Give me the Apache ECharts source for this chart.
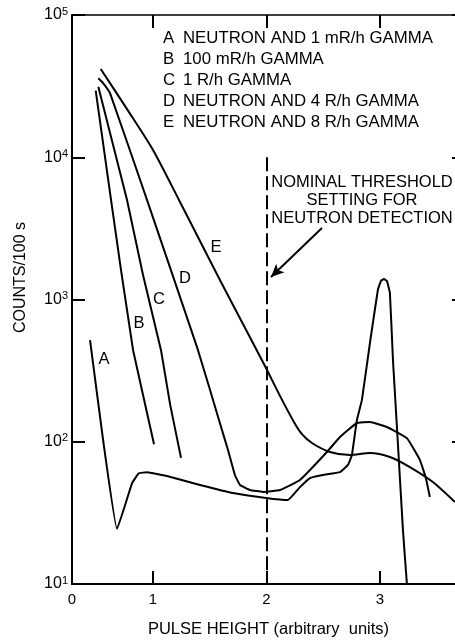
<!DOCTYPE html>
<html>
<head>
<meta charset="utf-8">
<script src="https://cdn.jsdelivr.net/npm/echarts@6/dist/echarts.min.js"></script>
<style>
  html, body { margin: 0; padding: 0; background: #fff; }
  #chart { width: 455px; height: 640px; }
</style>
</head>
<body>
<div id="chart"></div>
<script>
// pulse height spectra, counts/100 s vs pulse height (arbitrary units)
var X_MIN = 0.286, X_MAX = 3.75;
var xLabelValues = [X_MIN, 1, 2, 3];
var xLabelTexts = ['0', '1', '2', '3'];
var xTickValues = [1, 2, 3];

var curveKeys = ['A', 'B', 'C', 'D', 'E'];
var curveDescs = [
  'NEUTRON AND 1 mR/h GAMMA',
  '100 mR/h GAMMA',
  '1 R/h GAMMA',
  'NEUTRON AND 4 R/h GAMMA',
  'NEUTRON AND 8 R/h GAMMA'
];

var curveA = [
  [0.445, 519], [0.56, 103], [0.683, 24.4], [0.815, 51], [0.875, 60], [0.947, 61],
  [1.123, 57.4], [1.414, 49.7], [1.705, 43.6], [1.996, 40.3], [2.189, 39.0],
  [2.295, 48], [2.383, 55.6], [2.498, 58.4], [2.648, 61.2], [2.718, 68.7], [2.753, 80.7],
  [2.797, 142], [2.841, 196], [2.912, 494], [2.982, 1167], [3.009, 1349], [3.035, 1393],
  [3.062, 1349], [3.088, 1111], [3.115, 376], [3.15, 127], [3.203, 24], [3.238, 10]
];
var curveB = [
  [0.495, 29400], [0.63, 5010], [0.718, 1610], [0.824, 442], [0.912, 213], [1.009, 96]
];
var curveC = [
  [0.518, 31300], [0.771, 5010], [0.912, 1486], [1.07, 442], [1.152, 181], [1.247, 77]
];
var curveD = [
  [0.518, 35900], [0.562, 33100], [0.621, 28200], [0.947, 5010], [1.396, 442],
  [1.59, 135], [1.661, 87.5], [1.722, 58.4], [1.767, 49.7], [1.855, 45.8], [1.969, 44.4],
  [2.119, 45.8], [2.295, 53.8], [2.533, 84.7], [2.648, 108], [2.797, 135.5], [2.912, 137.8],
  [3.062, 127], [3.238, 106], [3.352, 74.5], [3.405, 55.6], [3.44, 40.9]
];
var curveE = [
  [0.539, 41700], [0.771, 21800], [1.0, 11250], [1.229, 5010], [1.414, 2576],
  [1.59, 1371], [1.793, 673], [1.996, 330], [2.119, 210], [2.242, 137.7],
  [2.313, 113], [2.401, 98], [2.559, 84.7], [2.736, 80.7], [2.912, 83.4],
  [3.088, 78.2], [3.264, 66.4], [3.467, 52.1], [3.661, 37.7]
];
var curves = [curveA, curveB, curveC, curveD, curveE];
var curveSmooth = [0.1, false, false, 0.1, 0.25];

// where the letters A..E sit next to their curves
var labelX = [0.568, 0.877, 1.053, 1.282, 1.555];
var labelY = [376, 684, 993, 1416, 2339];

// threshold line and the arrow pointing at it
var thresholdX = 2;
var thresholdTop = 10000;
var arrowFrom = [2.489, 3184];
var arrowTo = [2.04, 1439];

var FONT = '"Liberation Sans", Arial, Helvetica, sans-serif';
var INK = '#000';

var chart = echarts.init(document.getElementById('chart'), null, { renderer: 'canvas' });

var series = [];
for (var i = 0; i < curveKeys.length; i++) {
  series.push({
    name: curveKeys[i],
    type: 'line',
    data: curves[i],
    showSymbol: false,
    symbol: 'none',
    smooth: curveSmooth[i],
    lineStyle: { color: INK, width: 2, join: 'round' },
    itemStyle: { color: INK },
    silent: true
  });
}
// threshold marker + arrow
series[4].markLine = {
  silent: true,
  animation: false,
  symbol: ['none', 'none'],
  label: { show: false },
  emphasis: { disabled: true },
  data: [
    [
      { coord: [thresholdX, thresholdTop], lineStyle: { color: INK, width: 2, type: [14, 5] } },
      { coord: [thresholdX, 10] }
    ],
    [
      { coord: arrowFrom, symbol: 'none', lineStyle: { color: INK, width: 2, type: 'solid' } },
      { coord: arrowTo, symbol: 'arrow', symbolSize: [9, 13] }
    ]
  ]
};
series.push({
  name: 'letters',
  type: 'scatter',
  symbolSize: 0,
  silent: true,
  itemStyle: { color: INK, opacity: 1 },
  data: labelX.map(function (x, k) { return [x, labelY[k], curveKeys[k]]; }),
  label: {
    show: true,
    position: 'inside',
    formatter: function (p) { return p.value[2]; },
    color: INK,
    textBorderWidth: 0,
    fontSize: 16.5,
    fontFamily: FONT
  }
});

var option = {
  animation: false,
  backgroundColor: '#fff',
  textStyle: { fontFamily: FONT, color: INK },
  grid: { left: 72, right: -10, top: 15, bottom: 56, outerBoundsMode: 'none' },
  legend: {
    data: curveKeys,
    orient: 'vertical',
    left: 158,
    top: 28,
    padding: 0,
    itemGap: 0,
    itemWidth: 0,
    itemHeight: 10,
    icon: 'none',
    selectedMode: false,
    formatter: function (name) {
      return '{k|' + name + '}' + curveDescs[curveKeys.indexOf(name)];
    },
    textStyle: {
      color: INK,
      fontSize: 16.8,
      lineHeight: 21,
      fontFamily: FONT,
      rich: { k: { width: 20, fontSize: 16.8, fontFamily: FONT, color: INK } }
    }
  },
  xAxis: [{
    type: 'value',
    min: X_MIN,
    max: X_MAX,
    name: 'PULSE HEIGHT (arbitrary  units)',
    nameLocation: 'middle',
    nameGap: 37,
    nameTextStyle: { fontSize: 16.5, color: INK, fontFamily: FONT },
    splitLine: { show: false },
    axisLine: { show: true, onZero: false, lineStyle: { color: INK, width: 2 } },
    axisTick: { show: true, inside: true, length: 13, customValues: xTickValues, lineStyle: { color: INK, width: 2 } },
    axisLabel: {
      show: true,
      margin: 8,
      customValues: xLabelValues,
      fontSize: 15,
      color: INK,
      fontFamily: FONT,
      formatter: function (v) {
        var best = 0;
        for (var j = 0; j < xLabelValues.length; j++) {
          if (Math.abs(xLabelValues[j] - v) < Math.abs(xLabelValues[best] - v)) best = j;
        }
        return xLabelTexts[best];
      }
    }
  }, {
    type: 'value',
    position: 'top',
    min: X_MIN,
    max: X_MAX,
    splitLine: { show: false },
    axisLine: { show: true, onZero: false, lineStyle: { color: INK, width: 1.5 } },
    axisTick: { show: true, inside: true, length: 13, customValues: xTickValues, lineStyle: { color: INK, width: 2 } },
    axisLabel: { show: false }
  }],
  yAxis: [{
    type: 'log',
    logBase: 10,
    min: 10,
    max: 100000,
    name: 'COUNTS/100 s',
    nameLocation: 'middle',
    nameGap: 43,
    nameTextStyle: { fontSize: 16, color: INK, fontFamily: FONT, padding: [0, 0, 0, 44] },
    splitLine: { show: false },
    axisLine: { show: true, lineStyle: { color: INK, width: 2 } },
    axisTick: { show: true, inside: true, length: 13, lineStyle: { color: INK, width: 2 } },
    axisLabel: {
      margin: 4,
      formatter: function (v) {
        return '{b|10}{s|' + Math.round(Math.log(v) / Math.LN10) + '}';
      },
      rich: {
        b: { fontSize: 16, color: INK, fontFamily: FONT, lineHeight: 18 },
        s: { fontSize: 11, color: INK, fontFamily: FONT, verticalAlign: 'top', lineHeight: 11 }
      }
    }
  }, {
    type: 'log',
    logBase: 10,
    min: 10,
    max: 100000,
    position: 'right',
    splitLine: { show: false },
    axisLine: { show: true, lineStyle: { color: INK, width: 2 } },
    axisTick: { show: true, inside: true, length: 13, lineStyle: { color: INK, width: 2 } },
    axisLabel: { show: false }
  }],
  graphic: [{
    type: 'text',
    x: 362,
    y: 173,
    silent: true,
    style: {
      text: 'NOMINAL THRESHOLD\nSETTING FOR\nNEUTRON DETECTION',
      align: 'center',
      verticalAlign: 'top',
      fontSize: 16.5,
      lineHeight: 18,
      fontFamily: FONT,
      fill: INK
    }
  }],
  series: series
};

chart.setOption(option);
</script>
</body>
</html>
